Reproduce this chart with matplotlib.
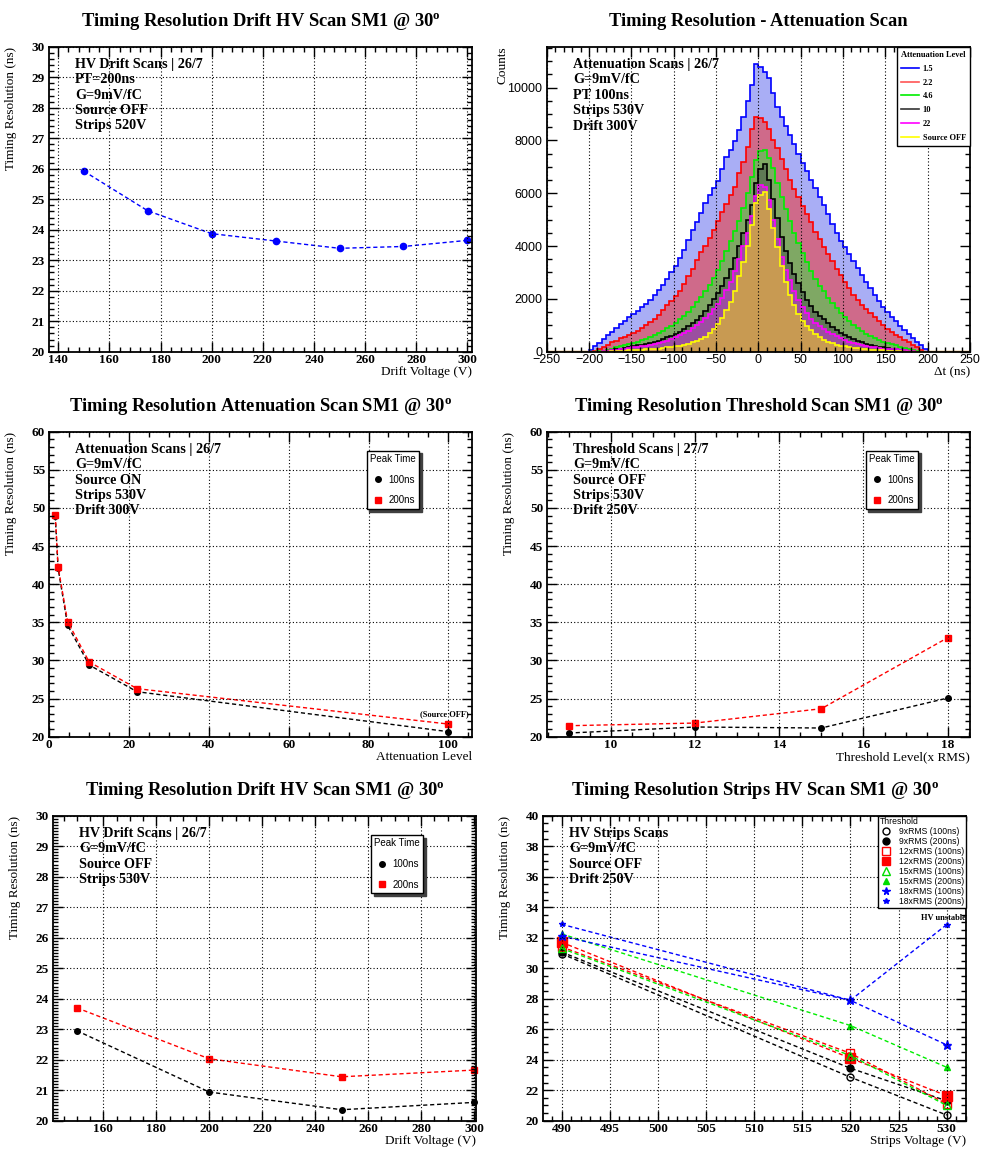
import numpy as np
import matplotlib
matplotlib.use("Agg")
import matplotlib.pyplot as plt
from matplotlib.ticker import MultipleLocator, AutoMinorLocator
from matplotlib.lines import Line2D

plt.rcParams['font.family'] = ['Liberation Serif', 'DejaVu Serif']
plt.rcParams['font.weight'] = 'bold'
plt.rcParams['mathtext.fontset'] = 'custom'
plt.rcParams['mathtext.rm'] = 'Liberation Serif:bold'
plt.rcParams['mathtext.it'] = 'Liberation Serif:bold'
plt.rcParams['mathtext.bf'] = 'Liberation Serif:bold'

# ---- panel 1 : drift HV scan, PT=200ns
drift1_v = [150, 175, 200, 225, 250, 275, 300]
drift1_res = [25.92, 24.62, 23.87, 23.63, 23.39, 23.45, 23.65]

# ---- panel 2 : attenuation scan histograms (5 ns bins, -200..200)
hist_edges = np.arange(-200, 205, 5)
att_labels = ["1.5", "2.2", "4.6", "10", "22", "Source OFF"]
h_15 = [60, 200, 330, 480, 620, 760, 900, 1040, 1160, 1300,
        1420, 1540, 1680, 1820, 1960, 2150, 2330, 2530, 2740, 3000,
        3260, 3540, 3870, 4220, 4590, 4900, 5250, 5620, 5920, 6200,
        6480, 6900, 7380, 7650, 7980, 8380, 8900, 9500, 10100, 10900,
        10800, 10600, 10350, 9800, 9250, 8900, 8550, 8200, 7850, 7500,
        7150, 6850, 6500, 6200, 5850, 5550, 5200, 4850, 4500, 4180,
        3950, 3700, 3420, 3170, 2920, 2650, 2400, 2160, 1920, 1700,
        1490, 1320, 1150, 990, 840, 680, 530, 380, 240, 90]
h_22 = [0, 30, 110, 190, 270, 350, 420, 500, 570, 640,
        710, 800, 900, 1000, 1110, 1250, 1400, 1570, 1750, 1930,
        2100, 2300, 2560, 2850, 3150, 3480, 3760, 4020, 4300, 4600,
        4950, 5300, 5600, 5950, 6250, 6750, 7200, 7750, 8450, 8900,
        8850, 8700, 8450, 8000, 7700, 7300, 6900, 6500, 6150, 5850,
        5500, 5200, 4900, 4550, 4250, 3950, 3700, 3450, 3150, 2900,
        2650, 2400, 2150, 1950, 1780, 1620, 1480, 1320, 1170, 1010,
        860, 740, 630, 540, 450, 360, 260, 160, 60, 0]
h_46 = [0, 0, 10, 40, 80, 120, 180, 220, 260, 300,
        340, 380, 430, 490, 560, 640, 720, 800, 890, 980,
        1100, 1230, 1370, 1520, 1680, 1870, 2060, 2280, 2520, 2780,
        3080, 3420, 3800, 4180, 4560, 4950, 5450, 6000, 6600, 7250,
        7600, 7650, 7350, 6950, 6400, 5850, 5400, 4950, 4500, 4100,
        3750, 3400, 3050, 2750, 2500, 2280, 2050, 1830, 1640, 1470,
        1320, 1170, 1020, 880, 770, 680, 590, 510, 440, 380,
        330, 280, 240, 190, 140, 90, 50, 20, 0, 0]
h_10 = [0, 0, 0, 10, 30, 60, 90, 120, 150, 180,
        210, 240, 270, 300, 330, 370, 410, 470, 540, 610,
        680, 760, 850, 960, 1080, 1210, 1370, 1550, 1750, 1980,
        2220, 2500, 2800, 3150, 3550, 4000, 4500, 5000, 5550, 6400,
        6900, 7100, 6500, 5800, 5050, 4350, 3800, 3350, 2950, 2600,
        2250, 1960, 1720, 1520, 1370, 1220, 1080, 950, 820, 710,
        620, 540, 470, 410, 350, 300, 260, 220, 190, 160,
        130, 110, 90, 70, 50, 30, 10, 0, 0, 0]
h_22b = [0, 0, 0, 10, 30, 50, 80, 100, 120, 140,
         160, 180, 200, 230, 260, 290, 330, 370, 420, 480,
         550, 620, 700, 790, 890, 1000, 1120, 1260, 1430, 1620,
         1820, 2050, 2320, 2650, 3050, 3500, 4000, 4500, 5150, 5900,
         6300, 6250, 5750, 5000, 4250, 3600, 3100, 2700, 2300, 1950,
         1680, 1450, 1250, 1090, 960, 850, 750, 660, 580, 510,
         440, 380, 330, 290, 250, 210, 180, 160, 140, 120,
         110, 100, 90, 70, 50, 30, 10, 0, 0, 0]
h_off = [0, 0, 0, 0, 0, 10, 20, 30, 40, 50,
         60, 70, 80, 90, 100, 110, 120, 140, 160, 180,
         200, 230, 260, 300, 350, 410, 480, 570, 690, 850,
         1050, 1280, 1580, 1900, 2300, 2850, 3400, 4000, 4800, 5650,
         5950, 6050, 5400, 4700, 3950, 3250, 2650, 2150, 1750, 1420,
         1180, 980, 820, 680, 560, 460, 380, 320, 270, 230,
         200, 170, 150, 130, 110, 90, 80, 70, 60, 50,
         40, 30, 20, 10, 0, 0, 0, 0, 0, 0]

# ---- panel 3 : attenuation scan
att_level = [1.5, 2.2, 4.6, 10, 22, 100]
att_100ns = [48.9, 42.1, 34.6, 29.4, 25.9, 20.66]
att_200ns = [49.07, 42.3, 35.08, 29.8, 26.3, 21.66]

# ---- panel 4 : threshold scan
thr_level = [9, 12, 15, 18]
thr_100ns = [20.48, 21.27, 21.14, 25.07]
thr_200ns = [21.44, 21.79, 23.67, 32.98]

# ---- panel 5 : drift HV scan, strips 530V
drift2_v = [150, 200, 250, 300]
drift2_100ns = [22.95, 20.94, 20.36, 20.6]
drift2_200ns = [23.70, 22.03, 21.44, 21.66]

# ---- panel 6 : strips HV scan
strips_v = [490, 520, 530]
strips_labels = ["9xRMS (100ns)", "9xRMS (200ns)", "12xRMS (100ns)", "12xRMS (200ns)",
                 "15xRMS (100ns)", "15xRMS (200ns)", "18xRMS (100ns)", "18xRMS (200ns)"]
s9_100 = [30.95, 22.85, 20.37]
s9_200 = [31.06, 23.44, 21.30]
s12_100 = [31.40, 24.42, 21.10]
s12_200 = [31.70, 24.10, 21.64]
s15_100 = [31.30, 24.27, 21.00]
s15_200 = [32.25, 26.24, 23.50]
s18_100 = [32.10, 27.89, 24.97]
s18_200 = [32.88, 27.90, 32.86]

W, H = 981, 1149
fig = plt.figure(figsize=(W / 100, H / 100), dpi=100)


def make_ax(l, r, t, b):
    return fig.add_axes([l / W, 1 - b / H, (r - l) / W, (b - t) / H])


def style(ax, xmaj, xmin, ymaj, ymin, ygrid=True, sans=False):
    ax.xaxis.set_major_locator(MultipleLocator(xmaj))
    ax.xaxis.set_minor_locator(AutoMinorLocator(xmin))
    ax.yaxis.set_major_locator(MultipleLocator(ymaj))
    ax.yaxis.set_minor_locator(AutoMinorLocator(ymin))
    ax.tick_params(which='both', direction='in', top=True, right=True, width=1)
    ax.tick_params(which='major', length=7)
    ax.tick_params(which='minor', length=3.5)
    ax.tick_params(axis='x', pad=2)
    ax.tick_params(axis='y', pad=3)
    for s in ax.spines.values():
        s.set_linewidth(1.3)
    ax.grid(True, axis='x', which='major', color='black', linestyle=(0, (1, 2)), linewidth=0.8)
    if ygrid:
        ax.grid(True, axis='y', which='major', color='black', linestyle=(0, (1, 2)), linewidth=0.8)
    ax.set_axisbelow(False)
    for lab in ax.get_xticklabels() + ax.get_yticklabels():
        if sans:
            lab.set_fontfamily('Liberation Sans')
            lab.set_fontweight('normal')
            lab.set_fontsize(9)
        else:
            lab.set_fontsize(9.5)


def labels(ax, title, xlabel, ylabel, ylx=-0.077):
    ax.text(0.5, 1.083, title, transform=ax.transAxes, ha='center', va='center', fontsize=13.3)
    ax.set_xlabel(xlabel, fontsize=9.5, loc='right')
    ax.xaxis.set_label_coords(1.0, -0.047)
    ax.set_ylabel(ylabel, fontsize=9.5, loc='top')
    ax.yaxis.set_label_coords(ylx, 1.0)


def info(ax, lines, x=0.061):
    for i, s in enumerate(lines):
        ax.text(x, 0.942 - i * 0.0505, s, transform=ax.transAxes, ha='left', va='center', fontsize=10.2)


def peak_legend(ax, x0, y0):
    hs = [Line2D([], [], color='black', marker='o', linestyle='none', markersize=4),
          Line2D([], [], color='red', marker='s', linestyle='none', markersize=5)]
    leg = ax.legend(hs, ["100ns", "200ns"], title="Peak Time", loc='upper left',
                    bbox_to_anchor=(x0, y0), alignment='left', frameon=True, fancybox=False,
                    edgecolor='black', framealpha=1, borderaxespad=0, borderpad=0.35,
                    handlelength=1.6, handletextpad=0.3, labelspacing=1.1,
                    prop={'family': 'Liberation Sans', 'weight': 'normal', 'size': 7},
                    title_fontproperties={'family': 'Liberation Sans', 'weight': 'normal', 'size': 7},
                    shadow={'color': '0.25', 'alpha': 1})
    leg.get_frame().set_linewidth(1.0)
    return leg


deg = r"30$^{\mathrm{o}}$"
dash = (0, (3, 2))

# ---------------- panel 1
ax1 = make_ax(49.3, 471.7, 46.7, 351.7)
ax1.plot(drift1_v, drift1_res, color='blue', linestyle=dash, linewidth=1, marker='o',
         markersize=4.5, clip_on=False)
ax1.set_xlim(136.5, 301.7)
ax1.set_ylim(20, 30)
style(ax1, 20, 5, 1, 5)
labels(ax1, "Timing Resolution Drift HV Scan SM1 @ " + deg, "Drift Voltage (V)", "Timing Resolution (ns)")
info(ax1, ["HV Drift Scans | 26/7", "PT=200ns", "G=9mV/fC", "Source OFF", "Strips 520V"])

# ---------------- panel 2
ax2 = make_ax(546.7, 970, 46.7, 351.7)
hists = [h_15, h_22, h_46, h_10, h_22b, h_off]
line_cols = ['blue', 'red', '#00ee00', 'black', 'magenta', 'yellow']
fill_cols = ['#a9aef5', '#cf6a8a', '#7fa864', '#5f7a55', '#9b4fa0', '#c89a52']
for vals, lc, fc in zip(hists, line_cols, fill_cols):
    ax2.stairs(vals, hist_edges, fill=True, color=fc, linewidth=0)
for vals, lc in zip(hists, line_cols):
    ax2.stairs(vals, hist_edges, color=lc, linewidth=1.2)
ax2.axhline(0, color='#c8903a', linewidth=2.5)
ax2.set_xlim(-250, 250)
ax2.set_ylim(0, 11550)
style(ax2, 50, 5, 2000, 4, ygrid=False, sans=True)
labels(ax2, "Timing Resolution - Attenuation Scan", "\u0394t (ns)", "Counts", ylx=-0.091)
info(ax2, ["Attenuation Scans | 26/7", "G=9mV/fC", "PT 100ns", "Strips 530V", "Drift 300V"], x=0.063)
hs = [Line2D([], [], color=c, linewidth=1.2) for c in ['blue', '#ff5555', '#00ee00', '#333333', 'magenta', 'yellow']]
leg2 = ax2.legend(hs, att_labels, title="Attenuation Level", loc='upper right',
                  bbox_to_anchor=(1.0, 1.0), alignment='left', frameon=True, fancybox=False,
                  edgecolor='black', framealpha=1, borderaxespad=0, borderpad=0.5,
                  handlelength=2.2, handletextpad=0.4, labelspacing=0.7,
                  prop={'family': 'Liberation Serif', 'weight': 'bold', 'size': 6},
                  title_fontproperties={'family': 'Liberation Serif', 'weight': 'bold', 'size': 6})
leg2.get_frame().set_linewidth(1.0)

# ---------------- panel 3
ax3 = make_ax(49.3, 471.7, 431.7, 736.7)
ax3.plot(att_level, att_100ns, color='black', linestyle=dash, linewidth=1, marker='o', markersize=4)
ax3.plot(att_level, att_200ns, color='red', linestyle=dash, linewidth=1, marker='s', markersize=5)
ax3.set_xlim(0, 105.85)
ax3.set_ylim(20, 60)
style(ax3, 20, 4, 5, 5)
labels(ax3, "Timing Resolution Attenuation Scan SM1 @ " + deg, "Attenuation Level", "Timing Resolution (ns)", ylx=-0.076)
info(ax3, ["Attenuation Scans | 26/7", "G=9mV/fC", "Source ON", "Strips 530V", "Drift 300V"])
ax3.text(99.1, 22.9, "(Source OFF)", ha='center', va='center', fontsize=6)
peak_legend(ax3, 0.751, 0.938)

# ---------------- panel 4
ax4 = make_ax(547.3, 970, 431.7, 736.7)
ax4.plot(thr_level, thr_100ns, color='black', linestyle=dash, linewidth=1, marker='o', markersize=4)
ax4.plot(thr_level, thr_200ns, color='red', linestyle=dash, linewidth=1, marker='s', markersize=5)
ax4.set_xlim(8.49, 18.53)
ax4.set_ylim(20, 60)
style(ax4, 2, 4, 5, 5)
labels(ax4, "Timing Resolution Threshold Scan SM1 @ " + deg, "Threshold Level(x RMS)", "Timing Resolution (ns)", ylx=-0.076)
info(ax4, ["Threshold Scans | 27/7", "G=9mV/fC", "Source OFF", "Strips 530V", "Drift 250V"], x=0.0615)
peak_legend(ax4, 0.753, 0.938)

# ---------------- panel 5
ax5 = make_ax(53.3, 476, 815.7, 1120.7)
ax5.plot(drift2_v, drift2_100ns, color='black', linestyle=dash, linewidth=1, marker='o', markersize=4, clip_on=False)
ax5.plot(drift2_v, drift2_200ns, color='red', linestyle=dash, linewidth=1, marker='s', markersize=5, clip_on=False)
ax5.set_xlim(141.1, 300.76)
ax5.set_ylim(20, 30)
style(ax5, 20, 4, 1, 10)
labels(ax5, "Timing Resolution Drift HV Scan SM1 @ " + deg, "Drift Voltage (V)", "Timing Resolution (ns)")
info(ax5, ["HV Drift Scans | 26/7", "G=9mV/fC", "Source OFF", "Strips 530V"])
peak_legend(ax5, 0.751, 0.937)

# ---------------- panel 6
ax6 = make_ax(543.3, 966, 815.7, 1120.7)
series = [s9_100, s9_200, s12_100, s12_200, s15_100, s15_200, s18_100, s18_200]
cols = ['black', 'black', 'red', 'red', '#00dd00', '#00dd00', 'blue', 'blue']
lcols = ['black', 'black', 'red', 'red', '#00ee00', '#00ee00', 'blue', 'blue']
marks = ['o', 'o', 's', 's', '^', '^', '*', '*']
sizes = [5, 5, 6, 7, 6, 5, 6.5, 4]
filled = [False, True, False, True, False, True, True, True]
hs6 = []
for vals, c, lc, m, ms, f in zip(series, cols, lcols, marks, sizes, filled):
    fc = c if f else 'none'
    ax6.plot(strips_v, vals, color=lc, linestyle=dash, linewidth=1)
    ax6.plot(strips_v, vals, color=c, linestyle='none', marker=m, markersize=ms,
             markerfacecolor=fc, markeredgecolor=c, markeredgewidth=1)
    hs6.append(Line2D([], [], color=c, linestyle='none', marker=m, markersize=min(ms, 5.5),
                      markerfacecolor=fc, markeredgecolor=c))
ax6.set_xlim(488.1, 532)
ax6.set_ylim(20, 40)
style(ax6, 5, 5, 2, 4)
labels(ax6, "Timing Resolution Strips HV Scan SM1 @ " + deg, "Strips Voltage (V)", "Timing Resolution (ns)")
info(ax6, ["HV Strips Scans", "G=9mV/fC", "Source OFF", "Drift 250V"])
ax6.text(529.6, 33.3, "HV unstable", ha='center', va='center', fontsize=6, zorder=10)
leg6 = ax6.legend(hs6, strips_labels, title="Threshold", loc='upper right',
                  bbox_to_anchor=(1.0, 1.0), alignment='left', frameon=True, fancybox=False,
                  edgecolor='black', framealpha=1, borderaxespad=0, borderpad=0.15,
                  handlelength=1.5, handletextpad=0.8, labelspacing=0.12,
                  prop={'family': 'Liberation Sans', 'weight': 'normal', 'size': 6.2},
                  title_fontproperties={'family': 'Liberation Sans', 'weight': 'normal', 'size': 6.2})
leg6.get_frame().set_linewidth(1.0)

fig.savefig("out.png", dpi=100)
